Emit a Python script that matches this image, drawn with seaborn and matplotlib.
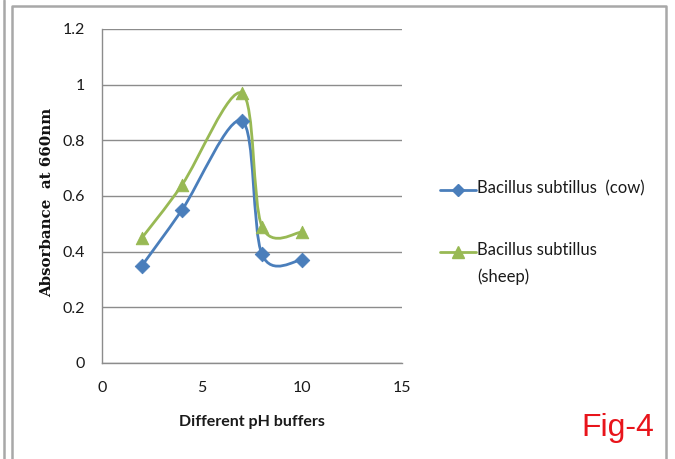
import numpy as np
import matplotlib
matplotlib.use("Agg")
import matplotlib.pyplot as plt
import seaborn as sns
import pandas as pd
from matplotlib.path import Path
from matplotlib.patches import PathPatch
from matplotlib.lines import Line2D

# ---- data ----
ph = [2, 4, 7, 8, 10]
cow = [0.35, 0.55, 0.87, 0.39, 0.37]
sheep = [0.45, 0.64, 0.97, 0.49, 0.47]
series_names = ["Bacillus subtillus  (cow)", "Bacillus subtillus\n(sheep)"]
x_ticks = [0, 5, 10, 15]
y_ticks = [0, 0.2, 0.4, 0.6, 0.8, 1.0, 1.2]
y_tick_labels = ["0", "0.2", "0.4", "0.6", "0.8", "1", "1.2"]

BLUE = "#4A7EBB"
GREEN = "#98B954"
GRAY = "#8C8C8C"

sns.set_theme(style="white")
plt.rcParams["font.family"] = ["Lato", "DejaVu Sans"]

W, H = 675, 459
fig = plt.figure(figsize=(W / 100, H / 100), dpi=100)
fig.patch.set_facecolor("white")

def fx(px):
    return px / W

def fy(py):
    return 1 - py / H

ax = fig.add_axes([fx(102), fy(363), fx(402) - fx(102), fy(29) - fy(363)])

df = pd.DataFrame({
    "ph": ph * 2,
    "abs": cow + sheep,
    "series": ["cow"] * len(ph) + ["sheep"] * len(ph),
})


def smooth_path(xs, ys):
    pts = np.column_stack([xs, ys]).astype(float)
    n = len(pts)
    verts = [pts[0]]
    codes = [Path.MOVETO]
    for i in range(n - 1):
        p0 = pts[i - 1] if i > 0 else pts[i]
        p1 = pts[i]
        p2 = pts[i + 1]
        p3 = pts[i + 2] if i + 2 < n else pts[i + 1]
        c1 = p1 + (p2 - p0) / 6.0
        c2 = p2 - (p3 - p1) / 6.0
        verts += [c1, c2, p2]
        codes += [Path.CURVE4] * 3
    return Path(verts, codes)


for vals, col in [(cow, BLUE), (sheep, GREEN)]:
    patch = PathPatch(smooth_path(ph, vals), facecolor="none", edgecolor=col,
                      lw=2.0, zorder=3, capstyle="round", joinstyle="round")
    ax.add_patch(patch)

sns.scatterplot(data=df[df.series == "cow"], x="ph", y="abs", ax=ax,
                marker="D", s=55, color=BLUE, edgecolor=BLUE, zorder=4, legend=False)
sns.scatterplot(data=df[df.series == "sheep"], x="ph", y="abs", ax=ax,
                marker="^", s=80, color=GREEN, edgecolor=GREEN, zorder=4, legend=False)

ax.set_xlim(0, 15)
ax.set_ylim(0, 1.2)
ax.set_xticks(x_ticks)
ax.set_yticks(y_ticks)
ax.set_yticklabels(y_tick_labels)
ax.yaxis.grid(True, color=GRAY, lw=1.0)
ax.xaxis.grid(False)
ax.set_axisbelow(True)
for s in ["top", "right"]:
    ax.spines[s].set_visible(False)
for s in ["left", "bottom"]:
    ax.spines[s].set_color(GRAY)
    ax.spines[s].set_linewidth(1.0)
ax.tick_params(axis="both", length=0, labelsize=11.5, colors="#1a1a1a")
ax.tick_params(axis="y", pad=12)
ax.tick_params(axis="x", pad=13)
ax.set_xlabel("")
ax.set_ylabel("")

fig.text(fx(47), fy(202), "Absorbance  at 660nm", rotation=90, ha="center", va="center",
         fontsize=10.8, fontweight="bold", color="#111111", family=["DejaVu Serif"])
fig.text(fx(252), fy(422), "Different pH buffers", ha="center", va="center",
         fontsize=11.5, fontweight="bold", color="#1a1a1a")

# legend drawn manually
leg_items = [(190, BLUE, "D", 6), (252, GREEN, "^", 8)]
for (py, col, mk, ms), name in zip(leg_items, series_names):
    fig.add_artist(Line2D([fx(440), fx(476)], [fy(py), fy(py)], color=col, lw=2,
                          transform=fig.transFigure))
    fig.add_artist(Line2D([fx(458)], [fy(py)], color=col, marker=mk, markersize=ms,
                          transform=fig.transFigure))
    fig.text(fx(477), fy(py - 10), name, ha="left", va="top", fontsize=12,
             color="#1a1a1a", linespacing=1.75)

fig.text(fx(618), fy(428), "Fig-4", ha="center", va="center", fontsize=23,
         color="#E8141B", family=["Liberation Sans"])

# chart frame
fig.add_artist(Line2D([fx(12), fx(12), fx(666), fx(666)], [fy(470), fy(6), fy(6), fy(470)],
                      color="#A8A8A8", lw=1.8, transform=fig.transFigure))
fig.add_artist(Line2D([fx(4), fx(4)], [fy(0), fy(470)], color="#A8A8A8", lw=1.8,
                      transform=fig.transFigure))

fig.savefig("out.png", dpi=100, facecolor="white")
